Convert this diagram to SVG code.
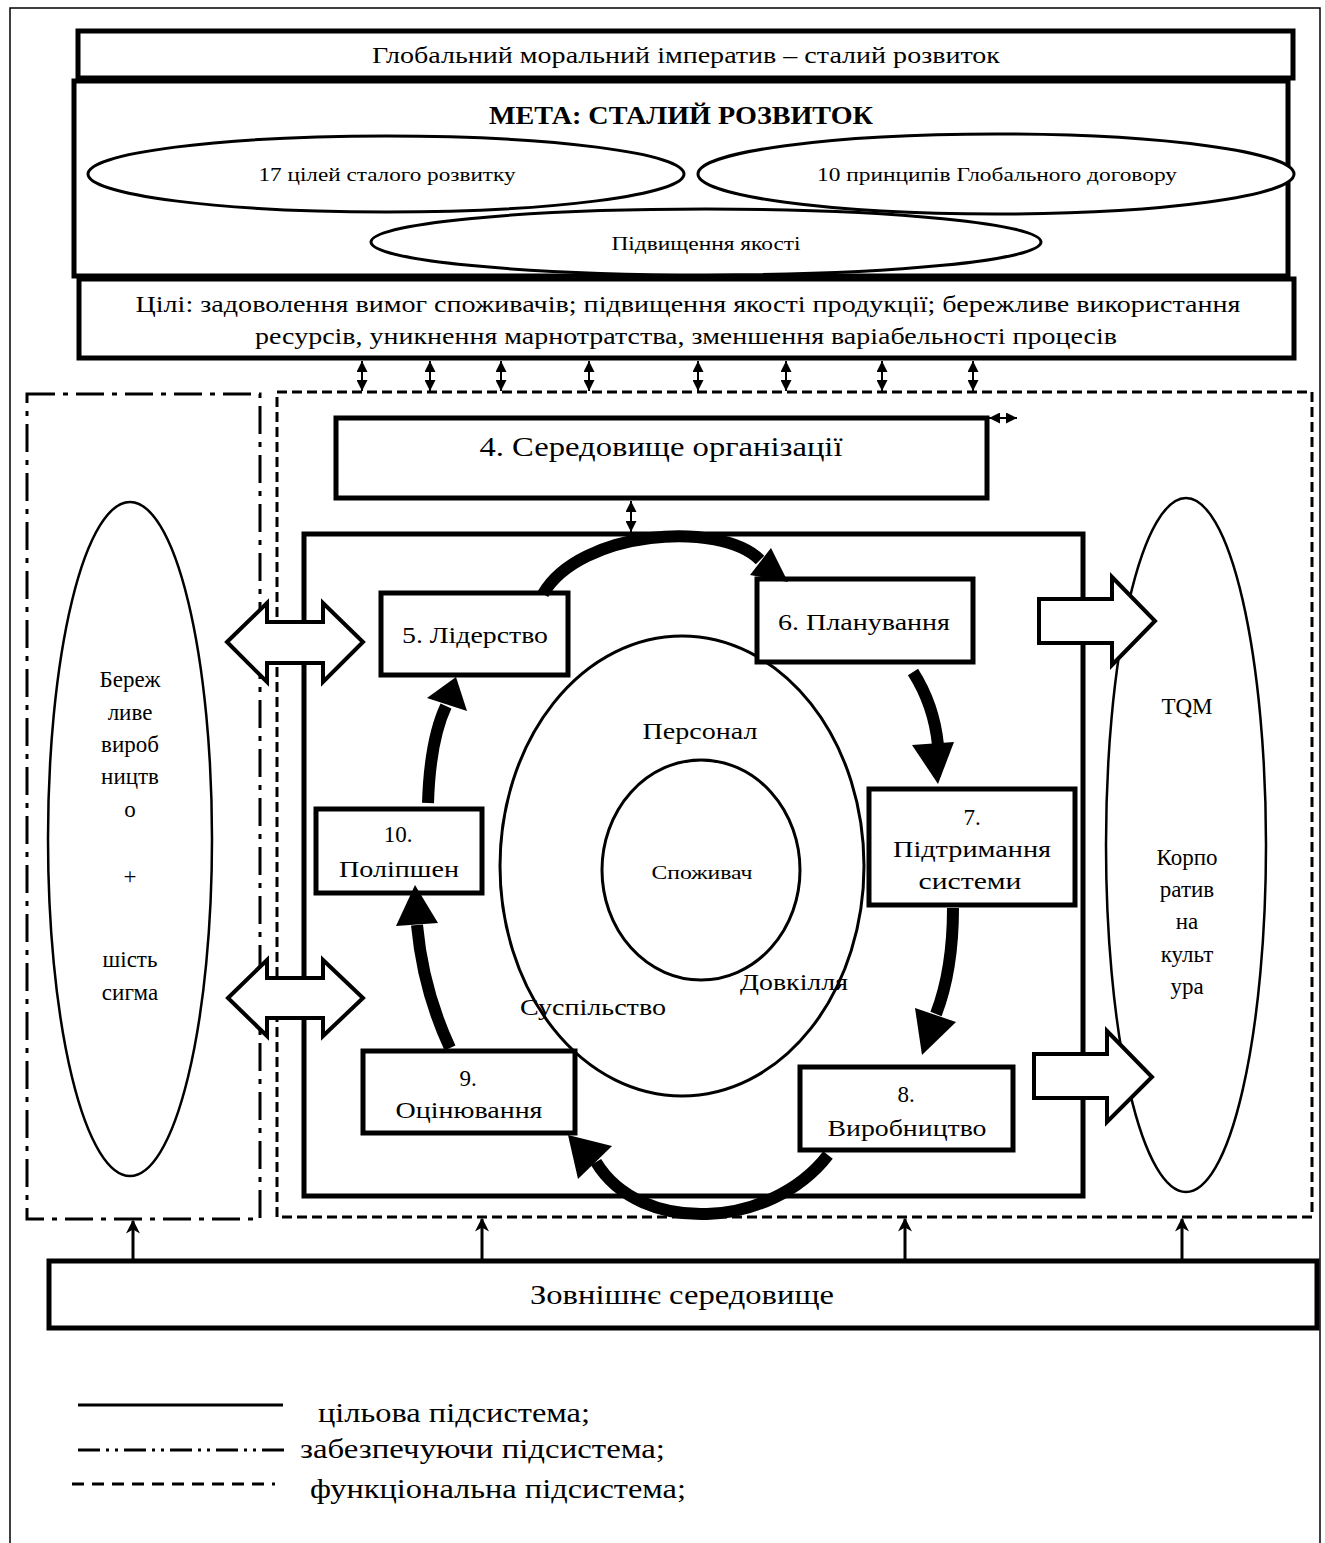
<svg xmlns="http://www.w3.org/2000/svg" width="1325" height="1543" viewBox="0 0 1325 1543">
  <style>
    text { font-family: "Liberation Serif", "Times New Roman", serif; fill: #000; text-anchor: middle; }
    text.left { text-anchor: start; }
    .box { fill: #fff; stroke: #000; stroke-width: 5; }
    .ell { fill: #fff; stroke: #000; stroke-width: 3; }
    .thin { fill: none; stroke: #000; stroke-width: 2.5; }
    .flow { fill: none; stroke: #000; stroke-width: 12; }
    .head { fill: #000; }
    .hollow { fill: #fff; stroke: #000; stroke-width: 4; stroke-linejoin: miter; }
    .link { stroke: #000; stroke-width: 2; fill: none; marker-start: url(#tip); marker-end: url(#tip); }
    .up { stroke: #000; stroke-width: 3; fill: none; marker-end: url(#notch); }
    .dashed { fill: none; stroke: #000; stroke-width: 3; stroke-dasharray: 10 5; }
    .dashdot { fill: none; stroke: #000; stroke-width: 3; stroke-dasharray: 28 8 5 8; }
  </style>
  <defs>
    <marker id="tip" viewBox="0 0 10 10" refX="10" refY="5" markerWidth="11" markerHeight="11" markerUnits="userSpaceOnUse" orient="auto-start-reverse">
      <path d="M0,0 L10,5 L0,10 z" fill="#000"/>
    </marker>
    <marker id="notch" viewBox="0 0 10 10" refX="9" refY="5" markerWidth="14" markerHeight="14" markerUnits="userSpaceOnUse" orient="auto">
      <path d="M0,0 L10,5 L0,10 L3,5 z" fill="#000"/>
    </marker>
  </defs>

  <rect width="1325" height="1543" fill="#fff"/>
  <!-- page frame -->
  <rect x="10" y="8" width="1310" height="1560" fill="none" stroke="#000" stroke-width="1.5"/>

  <!-- top layer: moral imperative -->
  <g id="imperative">
    <rect class="box" x="78" y="31" width="1215" height="47"/>
    <text x="686" y="63" font-size="23" textLength="628" lengthAdjust="spacingAndGlyphs">Глобальний моральний імператив – сталий розвиток</text>
  </g>

  <!-- goal block -->
  <g id="goal">
    <rect class="box" x="74" y="81" width="1214" height="195" stroke-width="6"/>
    <text x="681" y="124" font-size="25" font-weight="bold" textLength="384" lengthAdjust="spacingAndGlyphs">МЕТА: СТАЛИЙ РОЗВИТОК</text>
  </g>
  <g id="sdg17">
    <ellipse class="ell" cx="386" cy="174" rx="298" ry="38"/>
    <text x="387" y="181" font-size="19" textLength="257" lengthAdjust="spacingAndGlyphs">17 цілей сталого розвитку</text>
  </g>
  <g id="compact10">
    <ellipse class="ell" cx="996" cy="174" rx="298" ry="40"/>
    <text x="997" y="181" font-size="19" textLength="360" lengthAdjust="spacingAndGlyphs">10 принципів Глобального договору</text>
  </g>
  <g id="quality">
    <ellipse class="ell" cx="706" cy="242" rx="335" ry="33"/>
    <text x="706" y="250" font-size="19" textLength="189" lengthAdjust="spacingAndGlyphs">Підвищення якості</text>
  </g>

  <!-- objectives -->
  <g id="objectives">
    <rect class="box" x="79" y="279" width="1215" height="79"/>
    <text x="688" y="312" font-size="23" textLength="1105" lengthAdjust="spacingAndGlyphs">Цілі: задоволення вимог споживачів; підвищення якості продукції; бережливе використання</text>
    <text x="686" y="344" font-size="23" textLength="862" lengthAdjust="spacingAndGlyphs">ресурсів, уникнення марнотратства, зменшення варіабельності процесів</text>
  </g>

  <!-- functional subsystem (dashed) -->
  <g id="functional">
    <rect class="dashed" x="277" y="392" width="1035" height="825"/>
  </g>

  <!-- supporting subsystem (dash-dot) -->
  <g id="supporting">
    <rect class="dashdot" x="27" y="394" width="233" height="825"/>
  </g>

  <!-- lean + six sigma -->
  <g id="lean">
    <ellipse class="thin" cx="130" cy="839" rx="82" ry="337"/>
    <g font-size="23">
      <text x="130" y="687">Береж</text>
      <text x="130" y="720">ливе</text>
      <text x="130" y="752">вироб</text>
      <text x="130" y="784">ництв</text>
      <text x="130" y="817">о</text>
      <text x="130" y="884">+</text>
      <text x="130" y="967">шість</text>
      <text x="130" y="1000">сигма</text>
    </g>
  </g>

  <!-- TQM + corporate culture -->
  <g id="tqm">
    <ellipse class="thin" cx="1186" cy="845" rx="80" ry="347"/>
    <g font-size="23">
      <text x="1187" y="714">TQM</text>
      <text x="1187" y="865">Корпо</text>
      <text x="1187" y="897">ратив</text>
      <text x="1187" y="929">на</text>
      <text x="1187" y="962">культ</text>
      <text x="1187" y="994">ура</text>
    </g>
  </g>

  <!-- organisation context -->
  <g id="context">
    <rect class="box" x="336" y="418" width="651" height="80"/>
    <text x="661" y="456" font-size="28" textLength="363" lengthAdjust="spacingAndGlyphs">4. Середовище організації</text>
  </g>

  <!-- target subsystem frame -->
  <g id="target">
    <rect x="304" y="534" width="779" height="662" fill="none" stroke="#000" stroke-width="5"/>
  </g>

  <!-- stakeholders -->
  <g id="stakeholders">
    <ellipse class="ell" cx="682" cy="866" rx="182" ry="230"/>
    <text x="700" y="739" font-size="23" textLength="115" lengthAdjust="spacingAndGlyphs">Персонал</text>
    <text x="593" y="1015" font-size="23" textLength="146" lengthAdjust="spacingAndGlyphs">Суспільство</text>
    <text x="794" y="990" font-size="23" textLength="108" lengthAdjust="spacingAndGlyphs">Довкілля</text>
  </g>
  <g id="customer">
    <ellipse class="ell" cx="701" cy="870" rx="99" ry="110"/>
    <text x="702" y="879" font-size="18" textLength="101" lengthAdjust="spacingAndGlyphs">Споживач</text>
  </g>

  <!-- PDCA cycle boxes -->
  <g id="leadership">
    <rect class="box" x="381" y="593" width="187" height="82"/>
    <text x="475" y="643" font-size="23" textLength="146" lengthAdjust="spacingAndGlyphs">5. Лідерство</text>
  </g>
  <g id="planning">
    <rect class="box" x="757" y="579" width="216" height="83"/>
    <text x="864" y="630" font-size="23" textLength="172" lengthAdjust="spacingAndGlyphs">6. Планування</text>
  </g>
  <g id="support">
    <rect class="box" x="869" y="789" width="206" height="116"/>
    <text x="972" y="825" font-size="23">7.</text>
    <text x="972" y="857" font-size="23" textLength="158" lengthAdjust="spacingAndGlyphs">Підтримання</text>
    <text x="970" y="889" font-size="23" textLength="103" lengthAdjust="spacingAndGlyphs">системи</text>
  </g>
  <g id="operation">
    <rect class="box" x="800" y="1067" width="213" height="83"/>
    <text x="906" y="1102" font-size="23">8.</text>
    <text x="907" y="1136" font-size="23" textLength="159" lengthAdjust="spacingAndGlyphs">Виробництво</text>
  </g>
  <g id="evaluation">
    <rect class="box" x="363" y="1051" width="212" height="82"/>
    <text x="468" y="1086" font-size="23">9.</text>
    <text x="469" y="1118" font-size="23" textLength="147" lengthAdjust="spacingAndGlyphs">Оцінювання</text>
  </g>
  <g id="improvement">
    <rect class="box" x="316" y="809" width="166" height="84"/>
    <text x="398" y="842" font-size="23">10.</text>
    <text x="399" y="877" font-size="23" textLength="120" lengthAdjust="spacingAndGlyphs">Поліпшен</text>
  </g>

  <!-- external environment -->
  <g id="external">
    <rect class="box" x="49" y="1261" width="1268" height="67"/>
    <text x="682" y="1304" font-size="27" textLength="304" lengthAdjust="spacingAndGlyphs">Зовнішнє середовище</text>
  </g>

  <!-- connectors -->
  <g id="connectors">
    <!-- objectives <-> functional subsystem -->
    <line class="link" x1="362" y1="361" x2="362" y2="391"/>
    <line class="link" x1="430" y1="361" x2="430" y2="391"/>
    <line class="link" x1="501" y1="361" x2="501" y2="391"/>
    <line class="link" x1="589" y1="361" x2="589" y2="391"/>
    <line class="link" x1="698" y1="361" x2="698" y2="391"/>
    <line class="link" x1="786" y1="361" x2="786" y2="391"/>
    <line class="link" x1="882" y1="361" x2="882" y2="391"/>
    <line class="link" x1="973" y1="361" x2="973" y2="391"/>
    <line class="link" x1="989" y1="418" x2="1017" y2="418"/>
    <line class="link" x1="631" y1="501" x2="631" y2="532"/>

    <!-- PDCA flow -->
    <path class="flow" d="M543 594 C580 530 720 520 760 560"/>
    <polygon class="head" points="771,548 788,582 750,575"/>
    <path class="flow" d="M913 672 Q934 705 938 745"/>
    <polygon class="head" points="912,745 954,742 938,784"/>
    <path class="flow" d="M953 908 Q953 970 936 1014"/>
    <polygon class="head" points="915,1008 956,1022 922,1055"/>
    <path class="flow" d="M828 1155 C770 1230 640 1235 596 1162" stroke-width="14"/>
    <polygon class="head" points="568,1135 578,1179 612,1146"/>
    <path class="flow" d="M450 1048 Q423 990 417 925"/>
    <polygon class="head" points="396,926 438,923 415,885"/>
    <path class="flow" d="M428 803 Q430 740 446 706"/>
    <polygon class="head" points="427,698 467,711 456,677"/>

    <!-- supporting <-> target -->
    <polygon class="hollow" points="227,642 267,603 267,622 323,622 323,603 363,642 323,682 323,663 267,663 267,682"/>
    <polygon class="hollow" points="228,998 267,960 267,978 323,978 323,960 363,998 323,1036 323,1018 267,1018 267,1036"/>

    <!-- target -> TQM -->
    <polygon class="hollow" points="1039,599 1112,599 1112,577 1155,621 1112,665 1112,643 1039,643"/>
    <polygon class="hollow" points="1034,1054 1107,1054 1107,1031 1152,1077 1107,1122 1107,1098 1034,1098"/>

    <!-- external environment influences -->
    <line class="up" x1="133" y1="1259" x2="133" y2="1221"/>
    <line class="up" x1="482" y1="1259" x2="482" y2="1219"/>
    <line class="up" x1="905" y1="1259" x2="905" y2="1219"/>
    <line class="up" x1="1182" y1="1259" x2="1182" y2="1219"/>
  </g>

  <!-- legend -->
  <g id="legend">
    <line x1="78" y1="1405" x2="283" y2="1405" stroke="#000" stroke-width="3"/>
    <line x1="78" y1="1450" x2="285" y2="1450" stroke="#000" stroke-width="3" stroke-dasharray="22 6 3 6 3 6"/>
    <line x1="72" y1="1484" x2="275" y2="1484" stroke="#000" stroke-width="3" stroke-dasharray="12 8"/>
    <g font-size="28">
      <text class="left" x="318" y="1422" textLength="272" lengthAdjust="spacingAndGlyphs">цільова підсистема;</text>
      <text class="left" x="300" y="1458" textLength="365" lengthAdjust="spacingAndGlyphs">забезпечуючи підсистема;</text>
      <text class="left" x="310" y="1498" textLength="376" lengthAdjust="spacingAndGlyphs">функціональна підсистема;</text>
    </g>
  </g>
</svg>
